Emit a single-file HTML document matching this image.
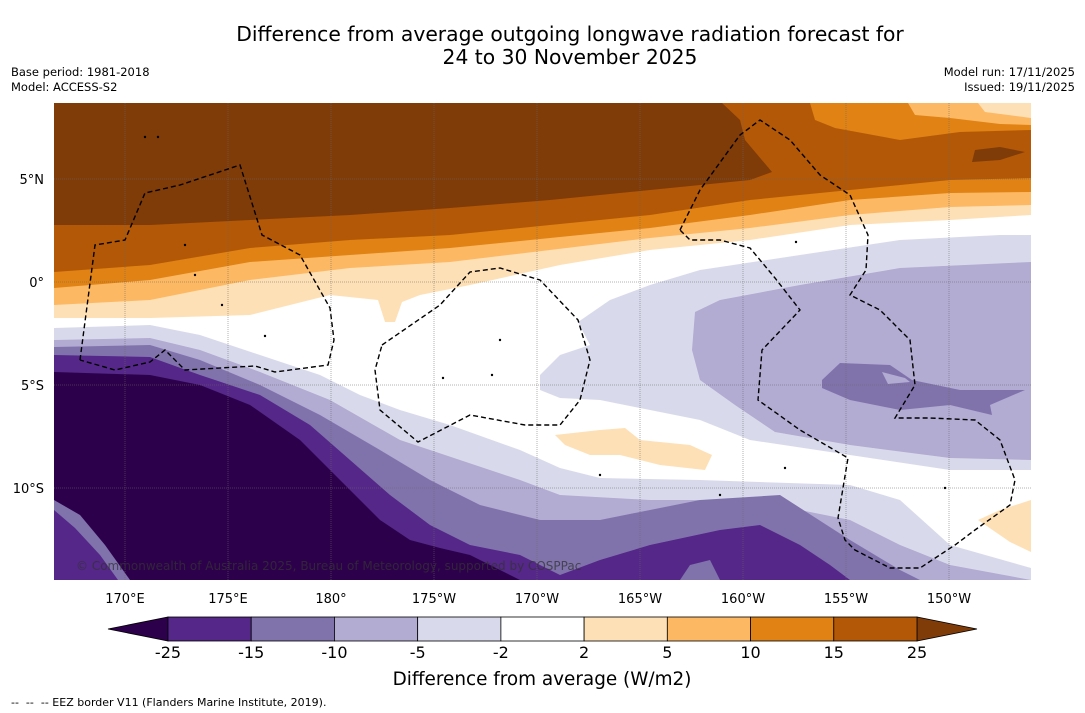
<!DOCTYPE html>
<html><head><meta charset="utf-8">
<style>
body{margin:0;background:#fff;font-family:"DejaVu Sans","Liberation Sans",sans-serif;}
#wrap{position:relative;width:1085px;height:713px;overflow:hidden;background:#fff;}
svg{position:absolute;left:0;top:0;font-family:"DejaVu Sans","Liberation Sans",sans-serif;}
</style></head>
<body>
<div id="wrap">
<svg id="svg" width="1085" height="713" xmlns="http://www.w3.org/2000/svg">
<text x="570" y="41" text-anchor="middle" font-size="20.3" fill="#000">Difference from average outgoing longwave radiation forecast for</text>
<text x="570" y="64" text-anchor="middle" font-size="20.3" fill="#000">24 to 30 November 2025</text>
<text x="11" y="76" font-size="11.5">Base period: 1981-2018</text>
<text x="11" y="91" font-size="11.5">Model: ACCESS-S2</text>
<text x="1075" y="76" font-size="11.5" text-anchor="end">Model run: 17/11/2025</text>
<text x="1075" y="91" font-size="11.5" text-anchor="end">Issued: 19/11/2025</text>
<defs><clipPath id="mc"><rect x="54" y="103" width="977" height="477"/></clipPath></defs>
<g id="map" clip-path="url(#mc)"></g>
<g id="axes"></g>
<g id="cbar"></g>
<text x="542" y="685" text-anchor="middle" font-size="18.4">Difference from average (W/m2)</text>
<text x="11" y="706" font-size="11" xml:space="preserve">--  --  -- EEZ border V11 (Flanders Marine Institute, 2019).</text>
</svg>
</div>
<script>
const levels=[-25,-15,-10,-5,-2,2,5,10,15,25];
const colors=["#2d004b","#542788","#8073ac","#b2abd2","#d8daeb","#ffffff","#fee0b6","#fdb863","#e08214","#b35806","#7f3b08"];
const lonTicks=["170°E","175°E","180°","175°W","170°W","165°W","160°W","155°W","150°W"];
const lonVals=[170,175,180,185,190,195,200,205,210];
const latTicks=["5°N","0°","5°S","10°S"];
const latVals=[5,0,-5,-10];
const NS="http://www.w3.org/2000/svg";
const X=lon=>125+(lon-170)*20.6, Y=lat=>282-lat*20.6;
const map=document.getElementById('map');
function poly(pts,fill,name){
  const p=document.createElementNS(NS,'polygon');
  p.setAttribute('points',pts.map(a=>a.join(',')).join(' '));
  p.setAttribute('fill',fill);
  
  
  map.appendChild(p);
}
function line(pts,name,attrs){
  const p=document.createElementNS(NS,'polyline');
  p.setAttribute('points',pts.map(a=>a.join(',')).join(' '));
  p.setAttribute('fill','none');
  for(const k in attrs)p.setAttribute(k,attrs[k]);
  
  
  map.appendChild(p);
}
poly([[54,103],[1031,103],[1031,580],[54,580]],"#ffffff","background-band");
const above=(pts)=>[[54,103],...pts,[1031,103]];
const below=(pts)=>[[54,580],...pts,[1031,580]];
poly(above([[54,318],[150,318],[250,315],[330,295],[378,300],[385,322],[395,322],[402,302],[420,295],[470,285],[560,265],[650,250],[750,240],[850,225],[950,220],[1031,215]]),colors[6],"band-2-to-5");
poly(above([[54,305],[150,300],[250,280],[350,268],[450,262],[550,250],[650,238],[750,228],[850,215],[950,207],[1031,205]]),colors[7],"band-5-to-10");
poly(above([[54,288],[150,280],[250,262],[350,255],[450,248],[550,238],[650,228],[750,215],[850,200],[950,193],[1031,192]]),colors[8],"band-10-to-15");
poly(above([[54,272],[150,265],[250,248],[350,240],[450,235],[550,225],[650,215],[750,200],[850,190],[950,180],[1031,178]]),colors[9],"band-15-to-25");
poly([[54,103],[54,225],[150,225],[250,220],[350,215],[450,208],[550,200],[650,190],[750,180],[772,172],[745,140],[740,120],[722,103]],colors[10],"band-above-25");
poly([[810,103],[815,120],[835,128],[900,140],[960,132],[1031,130],[1031,103]],colors[8],"ne-band-10");
poly([[908,103],[915,115],[950,118],[1000,124],[1031,125],[1031,103]],colors[7],"ne-band-5");
poly([[978,103],[985,112],[1031,118],[1031,103]],colors[6],"ne-band-2");
poly([[975,150],[1000,147],[1025,152],[1000,160],[972,162]],colors[10],"ne-blob-25");
poly([[540,375],[560,355],[590,345],[578,322],[610,300],[650,285],[700,270],[800,255],[900,240],[1000,235],[1031,235],[1031,470],[950,470],[850,455],[750,440],[700,420],[650,410],[600,400],[560,398],[540,390]],colors[4],"east-blob-minus2");
poly([[695,312],[720,300],[800,285],[900,268],[1031,262],[1031,460],[950,458],[850,445],[775,432],[735,405],[700,380],[692,350]],colors[3],"east-blob-minus5");
poly([[822,380],[840,363],[890,365],[912,380],[960,390],[1025,390],[990,405],[992,415],[950,405],[900,410],[850,400],[822,388]],colors[2],"east-blob-minus10");
poly([[882,372],[905,378],[910,382],[888,384]],colors[3],"east-blob-hole");
poly([[555,435],[600,430],[625,428],[640,440],[690,445],[712,455],[705,470],[660,465],[620,455],[590,455],[565,445]],colors[6],"patch-positive-center");
poly([[978,520],[1000,510],[1031,500],[1031,552],[1010,542]],colors[6],"patch-positive-se");
poly(below([[54,328],[150,325],[200,335],[260,355],[320,375],[360,395],[400,410],[450,425],[520,450],[560,468],[600,478],[700,480],[850,485],[900,500],[950,545],[1031,568]]),colors[4],"band-minus2");
poly(below([[54,340],[150,338],[200,350],[260,372],[330,400],[400,440],[460,460],[520,480],[560,495],[650,500],[750,500],[850,520],[900,545],[950,565],[1031,580]]),colors[3],"band-minus5");
poly(below([[54,347],[150,345],[200,360],[260,385],[320,415],[380,450],[430,480],[480,505],[540,520],[600,520],[700,500],[780,495],[850,540],[900,570],[920,580]]),colors[2],"band-minus10");
poly(below([[54,355],[150,357],[200,375],[260,395],[310,425],[350,460],[390,495],[430,525],[470,545],[520,555],[560,575],[600,560],[650,545],[720,530],[760,525],[800,545],[830,565],[850,580]]),colors[1],"band-minus15");
poly([[54,372],[150,375],[200,385],[250,405],[300,440],[340,480],[380,520],[410,540],[440,548],[470,555],[520,580],[54,580]],colors[0],"band-below-minus25");
poly([[54,500],[80,515],[105,545],[130,580],[54,580]],colors[2],"sw-corner-minus10");
poly([[54,510],[75,528],[100,555],[118,580],[54,580]],colors[1],"sw-corner-minus15");
poly([[680,580],[690,565],[710,560],[720,580]],colors[2],"s-patch");
const ax=document.getElementById('axes');
lonVals.forEach((v,i)=>{
  const l=document.createElementNS(NS,'line');
  l.setAttribute('x1',X(v));l.setAttribute('x2',X(v));l.setAttribute('y1',103);l.setAttribute('y2',580);
  l.setAttribute('stroke','#666');l.setAttribute('stroke-width','0.5');l.setAttribute('stroke-dasharray','1,1');
  
  
  map.appendChild(l);
  const t=document.createElementNS(NS,'text');
  t.setAttribute('x',X(v));t.setAttribute('y',603);t.setAttribute('text-anchor','middle');t.setAttribute('font-size','13');
  t.textContent=lonTicks[i];
  
  
  ax.appendChild(t);
});
latVals.forEach((v,i)=>{
  const l=document.createElementNS(NS,'line');
  l.setAttribute('x1',54);l.setAttribute('x2',1031);l.setAttribute('y1',Y(v));l.setAttribute('y2',Y(v));
  l.setAttribute('stroke','#666');l.setAttribute('stroke-width','0.5');l.setAttribute('stroke-dasharray','1,1');
  
  
  map.appendChild(l);
  const t=document.createElementNS(NS,'text');
  t.setAttribute('x',44);t.setAttribute('y',Y(v)+5);t.setAttribute('text-anchor','end');t.setAttribute('font-size','13');
  t.textContent=latTicks[i];
  
  
  ax.appendChild(t);
});
const dash={stroke:'#000','stroke-width':'1.4','stroke-dasharray':'5,3'};
line([[80,360],[95,245],[125,240],[145,193],[180,185],[240,165],[262,235],[300,255],[330,308],[334,340],[328,365],[275,372],[255,366],[185,370],[165,350],[150,362],[115,370],[80,360]],'eez-border-west',dash);
line([[382,345],[440,305],[470,272],[500,268],[540,280],[578,320],[590,360],[580,400],[560,425],[525,425],[470,415],[418,442],[380,410],[375,370],[382,345]],'eez-border-center',dash);
line([[680,230],[700,190],[740,135],[760,120],[790,140],[820,175],[850,195],[868,235],[866,270],[850,295],[880,310],[910,340],[915,385],[895,418],[930,418],[975,420],[1000,440],[1015,480],[1010,505],[975,530],[955,545],[920,568],[890,568],[855,550],[845,540],[838,518],[848,458],[800,430],[758,400],[762,350],[800,310],[775,278],[750,248],[720,240],[690,240],[680,230]],'eez-border-east',dash);
[[145,137],[158,137],[185,245],[195,275],[222,305],[265,336],[500,340],[443,378],[492,375],[720,495],[785,468],[796,242],[945,488],[600,475]].forEach(p=>{
  const c=document.createElementNS(NS,'circle');
  c.setAttribute('cx',p[0]);c.setAttribute('cy',p[1]);c.setAttribute('r','1.2');c.setAttribute('fill','#000');
  
  
  map.appendChild(c);
});
const cp=document.createElementNS(NS,'text');
cp.setAttribute('x',76);cp.setAttribute('y',570);cp.setAttribute('font-size','12');cp.setAttribute('fill','#333');cp.setAttribute('fill-opacity','0.75');
cp.textContent='© Commonwealth of Australia 2025, Bureau of Meteorology, supported by COSPPac';


map.appendChild(cp);
const cb=document.getElementById('cbar');
const x0=168,x1=917,cy0=617,cy1=641,seg=(x1-x0)/(levels.length-1);
function cbEl(tag,attrs,name){const e=document.createElementNS(NS,tag);for(const k in attrs)e.setAttribute(k,attrs[k]);
  
  
  cb.appendChild(e);return e;}
cbEl('polygon',{points:`${x0},${cy0} ${x0},${cy1} 108,629`,fill:colors[0],stroke:'#000','stroke-width':'0.8'},'colorbar-extend-low');
cbEl('polygon',{points:`${x1},${cy0} ${x1},${cy1} 977,629`,fill:colors[colors.length-1],stroke:'#000','stroke-width':'0.8'},'colorbar-extend-high');
for(let i=0;i<levels.length-1;i++){
  cbEl('rect',{x:x0+i*seg,y:cy0,width:seg,height:cy1-cy0,fill:colors[i+1],stroke:'#000','stroke-width':'0.8'},'colorbar-segment');
}
levels.forEach((v,i)=>{
  const t=cbEl('text',{x:x0+i*seg,y:658,'text-anchor':'middle','font-size':'16'},'colorbar-tick-label');
  t.textContent=v;
});
</script>
</body></html>
